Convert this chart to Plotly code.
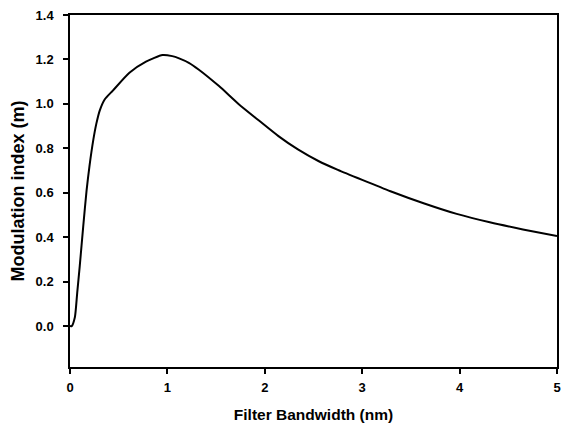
import plotly.graph_objects as go

# Modulation index vs. filter bandwidth
bandwidth_nm = [0, 0.017, 0.05, 0.074, 0.10, 0.136, 0.17, 0.20, 0.24, 0.27, 0.305,
                0.356, 0.44, 0.61, 0.78, 0.95, 1.05, 1.12, 1.22, 1.32, 1.53, 1.73,
                1.94, 2.14, 2.34, 2.55, 2.75, 3.0, 3.29, 3.63, 3.97, 4.31, 4.65, 5.0]
modulation_index = [0, 0.0, 0.04, 0.15, 0.27, 0.45, 0.61, 0.72, 0.84, 0.91, 0.97,
                    1.02, 1.06, 1.14, 1.19, 1.22, 1.215, 1.205, 1.185, 1.155, 1.08, 1.0,
                    0.925, 0.855, 0.795, 0.743, 0.703, 0.658, 0.607, 0.553, 0.505, 0.467,
                    0.435, 0.405]

x_ticks = [0, 1, 2, 3, 4, 5]
y_ticks = [0.0, 0.2, 0.4, 0.6, 0.8, 1.0, 1.2, 1.4]
y_tick_text = ["0.0", "0.2", "0.4", "0.6", "0.8", "1.0", "1.2", "1.4"]

font_family = "Liberation Sans, Arial, sans-serif"

fig = go.Figure()
fig.add_trace(go.Scatter(
    x=bandwidth_nm, y=modulation_index, mode="lines",
    line=dict(color="black", width=2, shape="spline", smoothing=0.6),
    showlegend=False,
))

axis_common = dict(
    showgrid=False, zeroline=False, showline=True, linecolor="black", linewidth=1.5,
    mirror=True, ticks="outside", ticklen=5, tickwidth=1.5, tickcolor="black",
    tickfont=dict(family=font_family, size=13, color="black", weight="bold"),
)

fig.update_xaxes(
    range=[0, 5], tickvals=x_ticks, ticktext=[str(v) for v in x_ticks],
    ticklabelstandoff=3,
    title=dict(text="Filter Bandwidth (nm)", standoff=15,
               font=dict(family=font_family, size=15.5, color="black", weight="bold")),
    **axis_common,
)
fig.update_yaxes(
    range=[-0.184, 1.4], tickvals=y_ticks, ticktext=y_tick_text,
    ticklabelstandoff=7,
    title=dict(text="Modulation index (m)", standoff=6,
               font=dict(family=font_family, size=18, color="black", weight="bold")),
    **axis_common,
)

fig.update_layout(
    width=565, height=425,
    margin=dict(l=70, r=4, t=15, b=57),
    paper_bgcolor="white", plot_bgcolor="white",
)

fig.write_html("out.html")
